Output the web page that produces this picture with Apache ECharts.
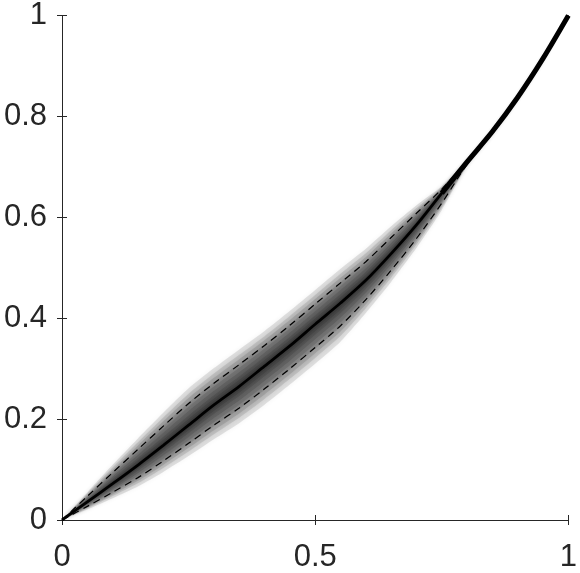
<!DOCTYPE html>
<html>
<head>
<meta charset="utf-8">
<script src="https://cdn.jsdelivr.net/npm/echarts@6/dist/echarts.min.js"></script>
<style>
  html, body { margin: 0; padding: 0; background: #ffffff; }
  #chart { width: 580px; height: 573px; }
</style>
</head>
<body>
<div id="chart"></div>
<script>
// Values
var xValues = [0, 0.05, 0.1, 0.15, 0.2, 0.25, 0.3, 0.35, 0.4, 0.45, 0.5, 0.55, 0.6, 0.65, 0.7, 0.75, 0.8, 0.85, 0.9, 0.95, 1];
var meanCurve = [0, 0.036, 0.072, 0.109, 0.148, 0.188, 0.228, 0.265, 0.305, 0.345, 0.388, 0.43, 0.475, 0.528, 0.585, 0.648, 0.71, 0.77, 0.838, 0.915, 1];
var upperBound = [0, 0.047, 0.094, 0.14, 0.186, 0.231, 0.271, 0.308, 0.346, 0.386, 0.428, 0.47, 0.512, 0.56, 0.608, 0.656, 0.712, 0.772, 0.84, 0.917, 1];
var lowerBound = [0, 0.027, 0.055, 0.084, 0.117, 0.152, 0.188, 0.222, 0.26, 0.3, 0.342, 0.385, 0.437, 0.495, 0.558, 0.628, 0.705, 0.766, 0.835, 0.912, 1];
var xTicks = [0, 0.5, 1];
var yTicks = [0, 0.2, 0.4, 0.6, 0.8, 1];

// Style: nested shading bands (fraction of the dashed envelope) imitating the density cloud
var bandFactors = [1.7, 1.45, 1.25, 1.05, 0.85, 0.65, 0.45, 0.3, 0.18];
var bandColor = 'rgba(0,0,0,0.1)';
var axisColor = '#262626';

function pairs(ys) { return xValues.map(function (x, i) { return [x, ys[i]]; }); }

var series = [];
bandFactors.forEach(function (f) {
  var rows = xValues.map(function (x, i) {
    var m = meanCurve[i];
    return [x, m - f * (m - lowerBound[i]), m + f * (upperBound[i] - m)];
  });
  series.push({
    type: 'custom',
    silent: true,
    z: 1,
    clip: true,
    encode: { x: 0, y: [1, 2] },
    data: rows,
    renderItem: function (params, api) {
      if (params.dataIndex !== 0) return null;
      var top = rows.map(function (r) { return api.coord([r[0], r[2]]); });
      var bottom = rows.map(function (r) { return api.coord([r[0], r[1]]); }).reverse();
      return {
        type: 'polygon',
        shape: { points: top.concat(bottom), smooth: 0.2 },
        style: { fill: bandColor, stroke: null, shadowBlur: 5, shadowColor: 'rgba(0,0,0,0.5)' }
      };
    }
  });
});

series.push({
  type: 'line', data: pairs(upperBound), symbol: 'none', silent: true, z: 3, smooth: 0.3,
  lineStyle: { color: '#000', width: 1.2, type: [7, 5] }
});
series.push({
  type: 'line', data: pairs(lowerBound), symbol: 'none', silent: true, z: 3, smooth: 0.3,
  lineStyle: { color: '#000', width: 1.2, type: [7, 5] }
});
series.push({
  type: 'line', data: pairs(meanCurve), symbol: 'none', silent: true, z: 4, smooth: 0.3,
  lineStyle: { color: '#000', width: 2.8 }
});
// thicker overlapping part near the top-right
series.push({
  type: 'line', data: pairs(meanCurve).slice(15), symbol: 'none', silent: true, z: 4, smooth: 0.3,
  lineStyle: { color: '#000', width: 5 }
});

var labelFont = { fontFamily: 'Liberation Sans, Arial, sans-serif', fontSize: 31, color: axisColor };

function axisBase(extra) {
  return Object.assign({
    axisLine: { show: true, lineStyle: { color: axisColor, width: 1 } },
    axisTick: { show: true, inside: true, length: 5, lineStyle: { color: axisColor } },
    splitLine: { show: false }
  }, extra);
}

var option = {
  animation: false,
  backgroundColor: '#ffffff',
  grid: { left: 62, right: 6, top: 11, bottom: 49, containLabel: false },
  xAxis: [
    axisBase({ type: 'value', min: xTicks[0], max: xTicks[xTicks.length - 1], interval: xTicks[1] - xTicks[0],
      axisLabel: Object.assign({ margin: 22 }, labelFont) }),
    axisBase({ type: 'value', position: 'top', min: xTicks[0], max: xTicks[xTicks.length - 1], interval: xTicks[1] - xTicks[0],
      axisLabel: { show: false } })
  ],
  yAxis: [
    axisBase({ type: 'value', min: yTicks[0], max: yTicks[yTicks.length - 1], interval: yTicks[1] - yTicks[0],
      axisLabel: Object.assign({ margin: 15 }, labelFont) }),
    axisBase({ type: 'value', position: 'right', min: yTicks[0], max: yTicks[yTicks.length - 1], interval: yTicks[1] - yTicks[0],
      axisLabel: { show: false } })
  ],
  series: series
};

var chart = echarts.init(document.getElementById('chart'), null, { renderer: 'canvas' });
chart.setOption(option);
</script>
</body>
</html>
